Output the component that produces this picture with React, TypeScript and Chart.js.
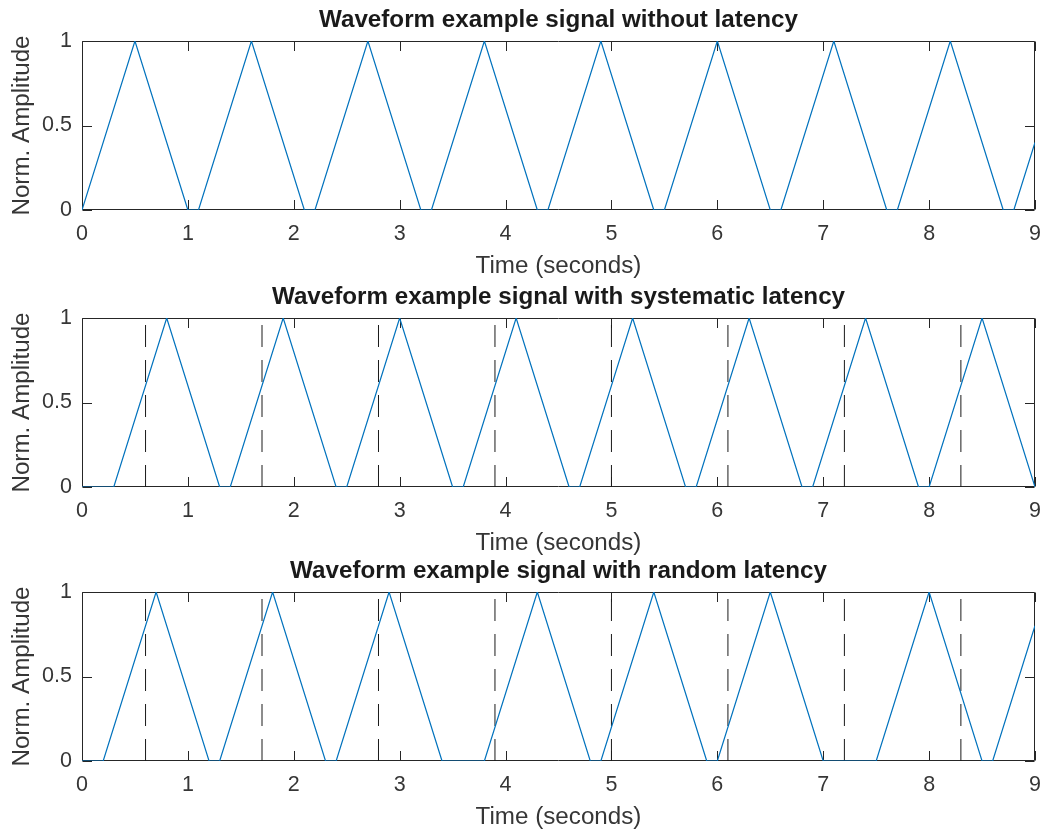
import React, { useEffect, useRef } from 'react';
import { Chart, registerables } from 'chart.js';

Chart.register(...registerables);

// ---------- data ----------
const xTickValues = [0, 1, 2, 3, 4, 5, 6, 7, 8, 9];
const yTickValues = [0, 0.5, 1];

const titleNoLatency = 'Waveform example signal without latency';
const timeNoLatency = [0, 0.5, 1.0, 1.1, 1.6, 2.1, 2.2, 2.7, 3.2, 3.3, 3.8, 4.3, 4.4, 4.9, 5.4, 5.5, 6.0, 6.5, 6.6, 7.1, 7.6, 7.7, 8.2, 8.7, 8.8, 9.0];
const ampNoLatency = [0, 1, 0, 0, 1, 0, 0, 1, 0, 0, 1, 0, 0, 1, 0, 0, 1, 0, 0, 1, 0, 0, 1, 0, 0, 0.4];
const markersNoLatency: number[] = [];

const titleSystematic = 'Waveform example signal with systematic latency';
const timeSystematic = [0, 0.3, 0.8, 1.3, 1.4, 1.9, 2.4, 2.5, 3.0, 3.5, 3.6, 4.1, 4.6, 4.7, 5.2, 5.7, 5.8, 6.3, 6.8, 6.9, 7.4, 7.9, 8.0, 8.5, 9.0];
const ampSystematic = [0, 0, 1, 0, 0, 1, 0, 0, 1, 0, 0, 1, 0, 0, 1, 0, 0, 1, 0, 0, 1, 0, 0, 1, 0];
const markersSystematic = [0.6, 1.7, 2.8, 3.9, 5.0, 6.1, 7.2, 8.3];

const titleRandom = 'Waveform example signal with random latency';
const timeRandom = [0, 0.2, 0.7, 1.2, 1.3, 1.8, 2.3, 2.4, 2.9, 3.4, 3.8, 4.3, 4.8, 4.9, 5.4, 5.9, 6.0, 6.5, 7.0, 7.5, 8.0, 8.5, 8.6, 9.0];
const ampRandom = [0, 0, 1, 0, 0, 1, 0, 0, 1, 0, 0, 1, 0, 0, 1, 0, 0, 1, 0, 0, 1, 0, 0, 0.8];
const markersRandom = [0.6, 1.7, 2.8, 3.9, 5.0, 6.1, 7.2, 8.3];

const xLabel = 'Time (seconds)';
const yLabel = 'Norm. Amplitude';

// ---------- styling ----------
const FONT = '"Liberation Sans", Arial, Helvetica, sans-serif';
const BLUE = '#0072BD';
const AXIS = '#262626';
const TEXT = '#363636';
const TICK_LEN = 9.5;
const CANVAS_W = 1042;
const CANVAS_H = 300;
const TOPS = [0, 277, 551];
const TICK_FONT = 21.5;
const LABEL_FONT = 24.2;

type Panel = { title: string; time: number[]; amp: number[]; markers: number[] };

const panels: Panel[] = [
  { title: titleNoLatency, time: timeNoLatency, amp: ampNoLatency, markers: markersNoLatency },
  { title: titleSystematic, time: timeSystematic, amp: ampSystematic, markers: markersSystematic },
  { title: titleRandom, time: timeRandom, amp: ampRandom, markers: markersRandom },
];

const axesBoxPlugin = {
  id: 'axesBox',
  beforeDatasetsDraw(chart: any) {
    const { ctx, chartArea: a, scales } = chart;
    ctx.save();
    ctx.strokeStyle = AXIS;
    ctx.lineWidth = 1;
    const L = Math.round(a.left) + 0.5;
    const R = Math.round(a.right) - 0.5;
    const T = Math.round(a.top) + 0.5;
    const B = Math.round(a.bottom) - 0.5;
    ctx.beginPath();
    ctx.rect(L, T, R - L, B - T);
    xTickValues.forEach((v) => {
      const px = Math.round(scales.x.getPixelForValue(v)) + 0.5;
      ctx.moveTo(px, B);
      ctx.lineTo(px, B - TICK_LEN);
      ctx.moveTo(px, T);
      ctx.lineTo(px, T + TICK_LEN);
    });
    yTickValues.forEach((v) => {
      const py = Math.round(scales.y.getPixelForValue(v)) + 0.5;
      ctx.moveTo(L, py);
      ctx.lineTo(L + TICK_LEN, py);
      ctx.moveTo(R, py);
      ctx.lineTo(R - TICK_LEN, py);
    });
    ctx.stroke();
    ctx.restore();
  },
};

function SubPlot({ panel, top }: { panel: Panel; top: number }) {
  const ref = useRef<HTMLCanvasElement>(null);
  useEffect(() => {
    const canvas = ref.current;
    if (!canvas) return;
    const datasets: any[] = [
      {
        data: panel.time.map((t, i) => ({ x: t, y: panel.amp[i] })),
        borderColor: BLUE,
        borderWidth: 1.2,
        pointRadius: 0,
        fill: false,
        tension: 0,
        order: 0,
      },
    ];
    panel.markers.forEach((m) => {
      datasets.push({
        data: [
          { x: m, y: 0 },
          { x: m, y: 1 },
        ],
        borderColor: '#1a1a1a',
        borderWidth: 1,
        borderDash: [22, 13],
        pointRadius: 0,
        fill: false,
        order: 1,
      });
    });
    const chart = new Chart(canvas, {
      type: 'line',
      data: { datasets },
      options: {
        responsive: false,
        animation: false,
        devicePixelRatio: 1,
        events: [],
        layout: { padding: { left: 0, right: 7, top: 0, bottom: 0 } },
        plugins: {
          legend: { display: false },
          tooltip: { enabled: false },
          title: {
            display: true,
            text: panel.title,
            fullSize: false,
            color: '#1a1a1a',
            font: { family: FONT, size: LABEL_FONT, weight: 'bold', lineHeight: 1.2 },
            padding: { top: 5.5, bottom: 6.46 },
          },
        },
        scales: {
          x: {
            type: 'linear',
            min: 0,
            max: 9,
            afterBuildTicks: (s: any) => {
              s.ticks = xTickValues.map((v) => ({ value: v }));
            },
            afterFit: (s: any) => {
              s.height = CANVAS_H - 210;
              s.paddingLeft = 0;
              s.paddingRight = 0;
            },
            grid: { display: false, drawTicks: false },
            border: { display: false },
            ticks: {
              padding: 11.1,
              color: TEXT,
              maxRotation: 0,
              autoSkip: false,
              font: { family: FONT, size: TICK_FONT, lineHeight: 1.2 },
              callback: (v: any) => String(v),
            },
            title: {
              display: true,
              text: xLabel,
              color: TEXT,
              font: { family: FONT, size: LABEL_FONT, lineHeight: 1.2 },
              padding: { top: 0, bottom: 19 },
            },
          },
          y: {
            type: 'linear',
            min: 0,
            max: 1,
            afterBuildTicks: (s: any) => {
              s.ticks = yTickValues.map((v) => ({ value: v }));
            },
            afterFit: (s: any) => {
              s.width = 82;
              s.paddingTop = 0;
              s.paddingBottom = 0;
            },
            grid: { display: false, drawTicks: false },
            border: { display: false },
            ticks: {
              padding: 10,
              color: TEXT,
              autoSkip: false,
              font: { family: FONT, size: TICK_FONT, lineHeight: 1.2 },
              callback: (v: any) => String(v),
            },
            title: {
              display: true,
              text: yLabel,
              color: TEXT,
              font: { family: FONT, size: LABEL_FONT, lineHeight: 1.2 },
              padding: { top: 8, bottom: 0 },
            },
          },
        },
      } as any,
      plugins: [axesBoxPlugin],
    });
    return () => chart.destroy();
  }, [panel]);
  return (
    <canvas
      ref={ref}
      width={CANVAS_W}
      height={CANVAS_H}
      style={{ position: 'absolute', left: 0, top, width: CANVAS_W, height: CANVAS_H }}
    />
  );
}

export default function App() {
  return (
    <div
      style={{
        position: 'absolute',
        left: 0,
        top: 0,
        width: CANVAS_W,
        height: 829,
        overflow: 'hidden',
        background: '#ffffff',
      }}
    >
      {panels.map((p, i) => (
        <SubPlot key={i} panel={p} top={TOPS[i]} />
      ))}
    </div>
  );
}
